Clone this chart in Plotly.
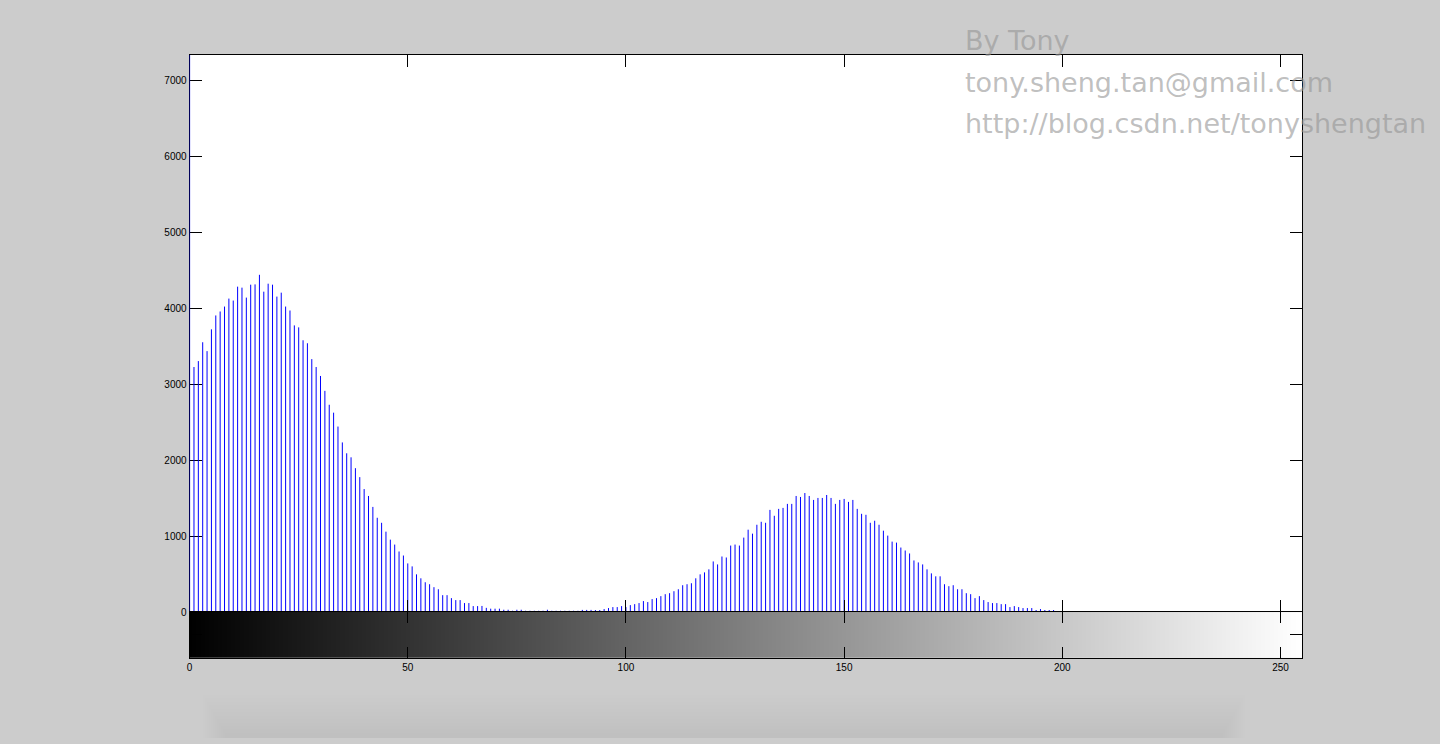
import plotly.graph_objects as go

# ---- data: histogram counts per grey level (0..255) ----
dark_peak = [8000, 3226, 3304, 3552, 3435, 3722, 3905, 3957, 4022, 4127,
             4101, 4284, 4271, 4140, 4310, 4314, 4440, 4218, 4323, 4310,
             4153, 4205, 4022, 3970, 3774, 3748, 3578, 3539, 3330, 3226,
             3108, 2912, 2729, 2625, 2442, 2233, 2090, 2037, 1894, 1776,
             1619, 1528, 1384, 1241, 1175, 1058, 953, 888, 797, 744]          # 0..49
dark_tail = [640, 601, 496, 444, 392, 366, 327, 300, 222, 222,
             183, 157, 157, 118, 118, 78, 78, 80, 55, 44,
             44, 44, 30, 30, 17, 30, 30, 17, 17, 17,
             17, 17, 30, 17, 17, 17, 17, 17, 17, 17]                          # 50..89
bright_rise = [28, 28, 28, 26, 26, 39, 52, 65, 65, 78,
               65, 91, 104, 118, 144, 131, 170, 183, 209, 235,
               248, 274, 300, 353, 366, 379, 444, 496, 522, 562,
               666, 627, 731, 718, 875, 888, 875, 980, 1084, 1032,
               1149, 1188, 1175, 1345, 1267, 1358, 1371, 1424, 1424, 1528]    # 90..139
bright_peak = [1515, 1567, 1528, 1476, 1502, 1502, 1541, 1502, 1424, 1476,
               1489, 1450, 1476, 1358, 1293, 1280, 1175, 1202, 1149, 1071,
               1006, 927, 914, 849, 810, 771, 679, 653, 627, 562,
               509, 470, 470, 366, 340, 353, 300, 300, 248, 235]              # 140..179
bright_tail = [183, 209, 157, 131, 118, 118, 104, 104, 65, 78,
               65, 52, 52, 52, 26, 39, 26, 26, 26, 13,
               13, 13, 13, 13, 13, 13, 13, 13, 13, 13,
               13, 13, 0, 13, 13, 13]                                          # 180..215
empty_tail = [0] * 40                                                          # 216..255

counts = dark_peak + dark_tail + bright_rise + bright_peak + bright_tail + empty_tail
levels = list(range(len(counts)))

x_ticks = [0, 50, 100, 150, 200, 250]
y_ticks = [0, 1000, 2000, 3000, 4000, 5000, 6000, 7000]
watermark = ["By Tony", "tony.sheng.tan@gmail.com", "http://blog.csdn.net/tonyshengtan"]

# ---- stems ----
sx, sy = [], []
for lv, c in zip(levels, counts):
    sx += [lv, lv, None]
    sy += [0, c, None]

W, H = 1440, 744
fig = go.Figure()
fig.add_trace(go.Scatter(x=sx, y=sy, mode="lines", line=dict(color="#0000ff", width=1),
                         hoverinfo="skip", showlegend=False, xaxis="x", yaxis="y"))
fig.add_trace(go.Heatmap(x=levels, y=[0], z=[levels],
                         colorscale=[[0, "#000000"], [1, "#ffffff"]],
                         showscale=False, hoverinfo="skip", xaxis="x2", yaxis="y2"))

font = dict(family="Liberation Sans, Arial, sans-serif", size=10, color="black")
xdom = [187 / W, 1302 / W]
common = dict(showline=True, linecolor="black", linewidth=1, showgrid=False,
              zeroline=False, ticks="inside", tickcolor="black", tickwidth=1,
              mirror="ticks", tickfont=font)

fig.update_layout(
    width=W, height=H, autosize=False,
    margin=dict(l=0, r=0, t=0, b=0),
    paper_bgcolor="#cccccc", plot_bgcolor="white",
    xaxis=dict(domain=xdom, range=[0, 255], anchor="y", tickvals=x_ticks,
               showticklabels=False, ticklen=12, **common),
    yaxis=dict(domain=[(H - 617) / H, (H - 55) / H], range=[0, 7340], anchor="x",
               tickvals=y_ticks, ticklen=12, layer="below traces", **common),
    xaxis2=dict(domain=xdom, range=[0, 255], anchor="y2", tickvals=x_ticks,
                ticklen=11, **common),
    yaxis2=dict(domain=[(H - 663) / H, (H - 617) / H], range=[-0.5, 0.5], anchor="x2",
                tickvals=[0], showticklabels=False, ticklen=12, **common),
)

for i, t in enumerate(watermark):
    fig.add_annotation(x=962 / W, y=(H - (41 + 42 * i)) / H, xref="paper", yref="paper",
                       text=t, showarrow=False, xanchor="left", yanchor="middle",
                       font=dict(family="DejaVu Sans", size=27, color="rgba(150,150,150,0.62)"))

# soft window shadow at the bottom
for k in range(12):
    fig.add_shape(type="rect", xref="paper", yref="paper",
                  x0=(200 + 2 * k) / W, x1=(1245 - 2 * k) / W, y0=0, y1=(44 - 3.5 * k) / H,
                  line=dict(width=0), fillcolor="rgba(0,0,0,0.0035)", layer="below")

fig.write_html(
    "out.html",
    config={"responsive": False, "displayModeBar": False},
    post_script=(
        "var s=document.createElement('style');"
        "s.textContent='html,body{margin:0;padding:0;background:#cccccc}"
        ".plotly-graph-div{position:fixed!important;top:0;left:0}';"
        "document.head.appendChild(s);"
    ),
)
